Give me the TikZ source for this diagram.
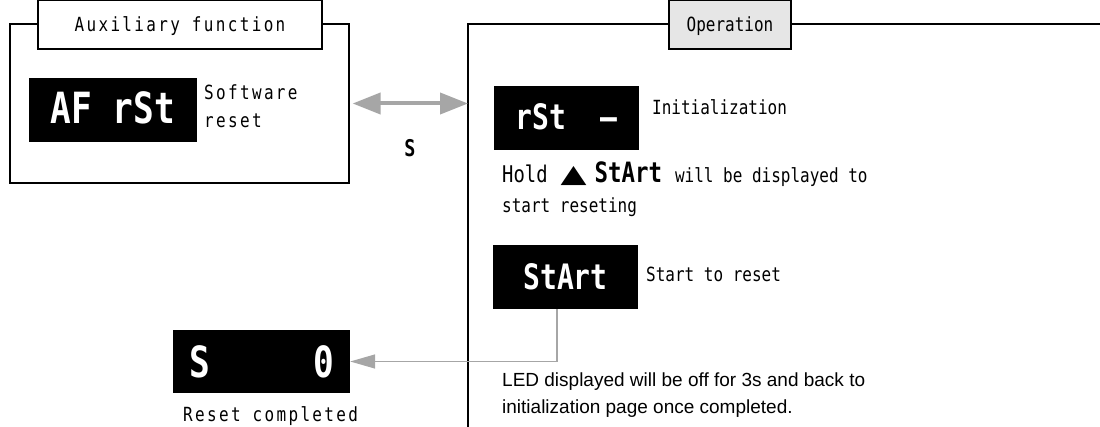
\documentclass[tikz,border=0pt]{standalone}
\usepackage{fontspec}
\usetikzlibrary{arrows.meta}
\newfontfamily\labfont[FakeStretch=0.82]{DejaVu Sans Mono}
\newfontfamily\labwide[FakeStretch=0.82,LetterSpace=12]{DejaVu Sans Mono}
\newfontfamily\dispfont[FakeStretch=0.8]{DejaVu Sans Mono}
\newfontfamily\ledfont{Liberation Sans}
\newfontfamily\symfont[FakeStretch=1.35]{DejaVu Sans}
\definecolor{arrowgrey}{HTML}{A6A6A6}
\definecolor{titlegrey}{HTML}{E6E6E6}
\begin{document}
\begin{tikzpicture}[x=1pt,y=-1pt,
  frame/.style={draw=black,line width=1.2pt},
  titlebox/.style={frame,minimum height=49pt,inner sep=0pt,text depth=0pt},
  display/.style={fill=black,text=white,inner sep=0pt},
  lab/.style={anchor=base west,inner sep=0pt,font=\labfont\fontsize{19.5}{22}\selectfont},
  labw/.style={anchor=base west,inner sep=0pt,font=\labwide\fontsize{19.5}{22}\selectfont},
  dbl/.style={draw=arrowgrey,line width=4pt,{Triangle[length=28pt,width=21pt]}-{Triangle[length=28pt,width=21pt]}},
  conn/.style={draw=arrowgrey,line width=1.5pt,-{Triangle[length=25pt,width=14pt]}}
]
\path[use as bounding box] (0,0) rectangle (1100,427);

% auxiliary function frame
\node[frame,minimum width=339pt,minimum height=159pt,inner sep=0pt] (auxframe) at (179.5,103.5) {};
\node[titlebox,fill=white,minimum width=284pt,font=\labwide\fontsize{19.5}{22}\selectfont] (auxtitle) at (180,24.5) {Auxiliary function};
\node[display,minimum width=168pt,minimum height=64pt,font=\dispfont\bfseries\fontsize{43}{43}\selectfont] (afrst) at (113,110) {\raisebox{5pt}{AF rSt}};
\node[labw] (sw1) at (204,100) {Software};
\node[labw] (sw2) at (204,128) {reset};

% operation frame
\coordinate (opTL) at (468,24);
\coordinate (opBL) at (468,427);
\coordinate (opTR) at (1100,24);
\draw[frame] (opBL) -- (opTL) -- (opTR);
\node[titlebox,fill=titlegrey,minimum width=122pt,font=\labfont\fontsize{19.5}{22}\selectfont] (optitle) at (730,24.5) {Operation};
\coordinate (opL) at (468,103.5);

% double arrow
\draw[dbl] ([xshift=3pt]auxframe.east) -- (opL);
\node[anchor=base,inner sep=0pt,font=\dispfont\bfseries\fontsize{23}{23}\selectfont] (slab) at (410,157) {S};

% operation contents
\node[display,minimum width=145pt,minimum height=64pt,font=\dispfont\bfseries\fontsize{35}{35}\selectfont] (rst) at (566.5,118) {\raisebox{3pt}{rSt\ \ –}};
\node[lab] (init) at (652,115) {Initialization};
\node[anchor=base west,inner sep=0pt] (hold) at (502,183) {%
  {\labfont\fontsize{23}{26}\selectfont Hold}\hspace{12pt}%
  \makebox[28pt][c]{\symfont\fontsize{25}{26}\selectfont ▲}\hspace{7pt}%
  {\dispfont\bfseries\fontsize{28}{28}\selectfont StArt}\hspace{13pt}%
  {\labfont\fontsize{19.5}{22}\selectfont will be displayed to}};
\node[lab] (hold2) at (502,213) {start reseting};
\node[display,minimum width=145pt,minimum height=64pt,font=\dispfont\bfseries\fontsize{35}{35}\selectfont] (startbox) at (565.5,277) {StArt};
\node[lab] (strst) at (646,282) {Start to reset};
\node[anchor=base west,inner sep=0pt,font=\ledfont\fontsize{19}{26}\selectfont] (led1) at (502,387) {LED displayed will be off for 3s and back to};
\node[anchor=base west,inner sep=0pt,font=\ledfont\fontsize{19}{26}\selectfont] (led2) at (502,413) {initialization page once completed.};

% reset completed
\node[display,minimum width=177pt,minimum height=63pt,font=\dispfont\bfseries\fontsize{43}{43}\selectfont] (szero) at (261.5,361.5) {S\ \ \ \ \ 0};
\node[labw] (rcomp) at (183,421) {Reset completed};

\draw[conn] ([xshift=-8.5pt]startbox.south) |- (szero.east);
\end{tikzpicture}
\end{document}
